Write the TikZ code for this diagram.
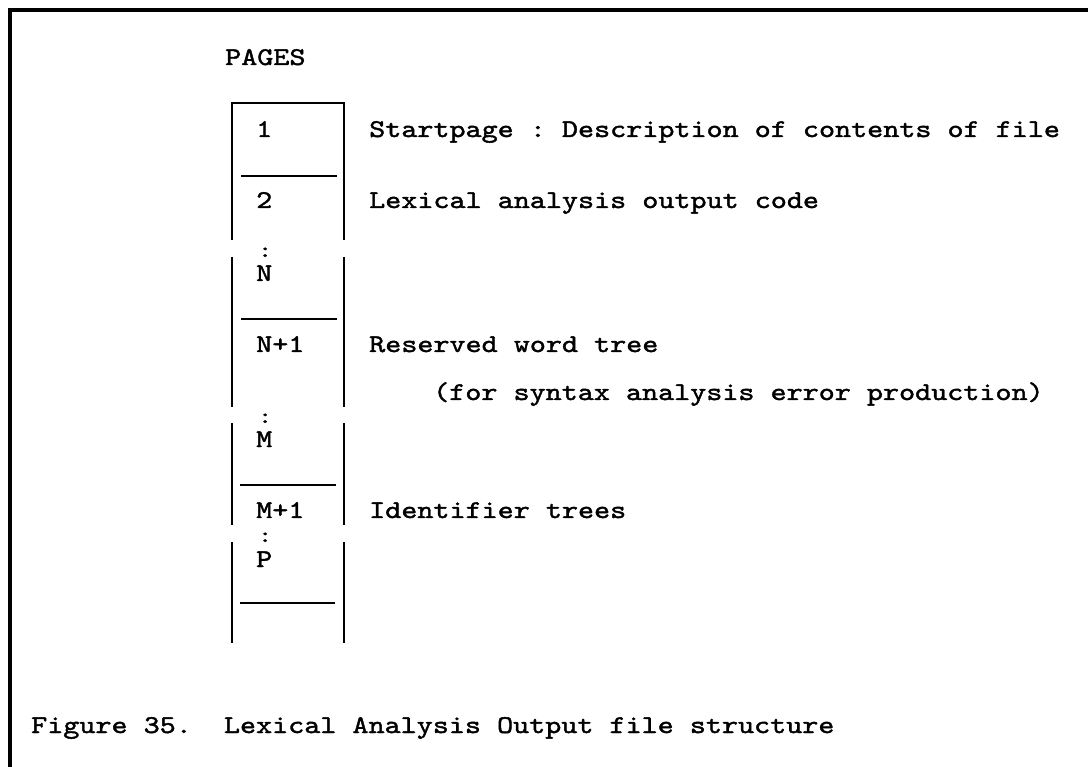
\documentclass[tikz,border=0pt]{standalone}
\usepackage{fontspec}
\setmonofont[FakeStretch=1.2,FakeBold=1.6]{lmmono10-regular.otf}
\begin{document}
\begin{tikzpicture}[x=1pt,y=-1pt,
  txt/.style={anchor=base west,inner sep=0pt,font=\ttfamily\fontsize{25.5}{30}\selectfont},
  dots/.style={anchor=base west,inner sep=0pt,font=\ttfamily\fontsize{22}{26}\selectfont},
  frameline/.style={line width=3.5pt},
  colline/.style={line width=2.8pt},
  sepline/.style={line width=2.8pt}]
\useasboundingbox (0,0) rectangle (1088,767);
% outer frame (top and left only)
\draw[frameline] (10,767) -- (10,10) -- (1088,10);
% column
\draw[colline] (232,240) -- (232,103) -- (344,103) -- (344,240);
\draw[colline] (232,257) -- (232,407);
\draw[colline] (344,257) -- (344,407);
\draw[colline] (232,423) -- (232,525);
\draw[colline] (344,423) -- (344,525);
\draw[colline] (232,542) -- (232,643);
\draw[colline] (344,542) -- (344,643);
% separators
\draw[sepline] (241,176) -- (337,176);
\draw[sepline] (241,319) -- (337,319);
\draw[sepline] (240,485) -- (336,485);
\draw[sepline] (240,603) -- (335,603);
% labels
\node[txt] (pages) at (225,65) {PAGES};
\node[txt] (p1) at (256,137) {1};
\node[txt] (p2) at (256,208) {2};
\node[dots] (c1) at (258,257) {:};
\node[txt] (pN) at (256,281) {N};
\node[txt] (pN1) at (256,352) {N+1};
\node[dots] (c2) at (258,423) {:};
\node[txt] (pM) at (256,447) {M};
\node[txt] (pM1) at (256,518) {M+1};
\node[dots] (c3) at (258,542) {:};
\node[txt] (pP) at (256,567) {P};
\node[txt] (d1) at (369,137) {Startpage : Description of contents of file};
\node[txt] (d2) at (369,208) {Lexical analysis output code};
\node[txt] (d3) at (369,352) {Reserved word tree};
\node[txt] (d4) at (433,400) {(for syntax analysis error production)};
\node[txt] (d5) at (369,518) {Identifier trees};
\node[txt] (cap) at (31,733) {Figure 35.\ \ Lexical Analysis Output file structure};
\end{tikzpicture}
\end{document}
